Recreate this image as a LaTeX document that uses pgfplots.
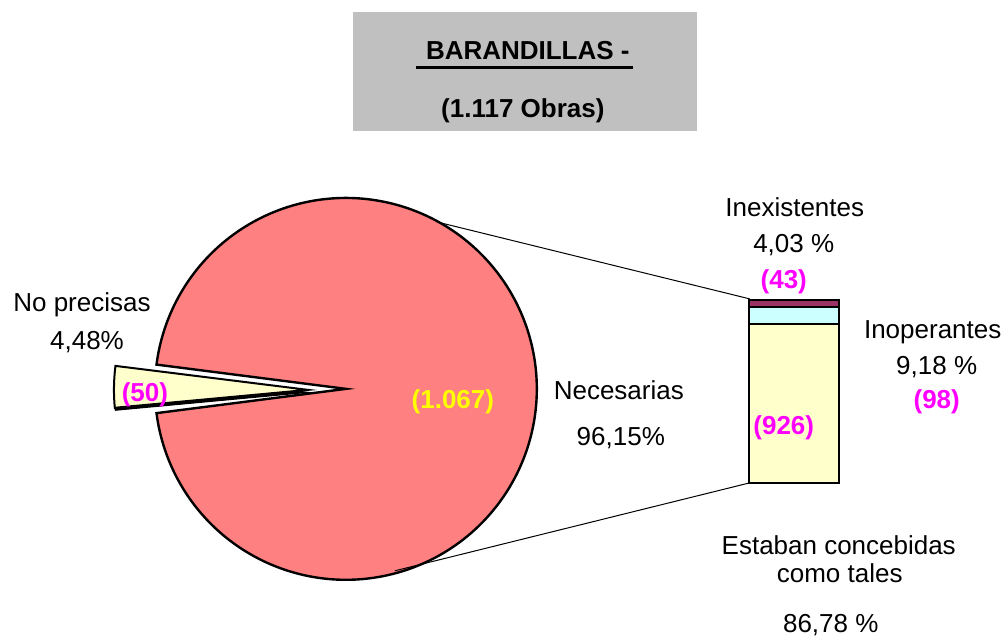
\documentclass[border=0pt]{standalone}
\usepackage{pgfplots}
\pgfplotsset{compat=1.18}
\usepackage{fontspec}
\setmainfont{Liberation Sans}
\definecolor{pieRed}{HTML}{FF8080}
\definecolor{pieYel}{HTML}{FFFFCC}
\definecolor{barCyan}{HTML}{CCFFFF}
\definecolor{barPlum}{HTML}{993366}
\definecolor{lblMag}{HTML}{FF00FF}
\definecolor{lblYel}{HTML}{FFFF00}
\definecolor{boxGray}{HTML}{C0C0C0}
\begin{document}
\begin{tikzpicture}[font=\fontsize{13}{15.6}\selectfont]
% stacked bar of the "Necesarias" part (1.067 obras)
\begin{axis}[at={(374.5pt,77pt)}, anchor=south west, scale only axis,
  width=45pt, height=91.5pt, xmin=-0.5, xmax=0.5, ymin=0, ymax=1067,
  hide axis, ybar stacked, bar width=45pt, clip=false]
\addplot[fill=pieYel, draw=black, line width=1.1pt] coordinates {(0,926)};
\addplot[fill=barCyan, draw=black, line width=1.1pt] coordinates {(0,98)};
\addplot[fill=barPlum, draw=black, line width=1.1pt] coordinates {(0,43)};
\end{axis}
% main canvas (pixel units, y downward)
\begin{axis}[scale only axis, width=504pt, height=318.5pt,
  xmin=0, xmax=1008, ymin=0, ymax=637, y dir=reverse, hide axis, clip=false]
\addplot[draw=none] coordinates {(0,0) (1008,637)};
% title box
\addplot[draw=none, fill=boxGray] coordinates {(353,12) (697,12) (697,131) (353,131)} -- cycle;
\node[anchor=base, font=\fontsize{13}{15.6}\selectfont\bfseries] at (axis cs:528,60) {BARANDILLAS -};
\addplot[black, line width=1.4pt] coordinates {(416,67.5) (633,67.5)};
\node[anchor=base, font=\fontsize{13}{15.6}\selectfont\bfseries] at (axis cs:523,118) {(1.117 Obras)};
% pie: Necesarias (1.067) with the notch of No precisas (50)
\addplot[fill=pieRed, draw=black, line width=1.2pt, domain=187.3:532.7, samples=300, variable=\t]
  ({346+191*cos(t)}, {389-191*sin(t)}) -- (axis cs:346,389) -- cycle;
% exploded slice: shadow then slice
\addplot[fill=black, draw=black, line width=0.5pt, domain=173.4:185.3, samples=30, variable=\t]
  ({308.5+194*cos(t)}, {392.5-194*sin(t)}) -- (axis cs:308.5,392.5) -- cycle;
\addplot[fill=pieYel, draw=black, line width=1pt, domain=172.9:185.3, samples=30, variable=\t]
  ({308+194*cos(t)}, {390-194*sin(t)}) -- (axis cs:308,390) -- cycle;
% connector lines
\addplot[black, line width=0.5pt] coordinates {(437,222) (750,299)};
\addplot[black, line width=0.5pt] coordinates {(395,571) (750,483)};
% labels
\node[anchor=base] at (axis cs:82,312) {No precisas};
\node[anchor=base] at (axis cs:87,350) {4,48\%};
\node[anchor=base, text=lblMag, font=\fontsize{13}{15.6}\selectfont\bfseries] at (axis cs:145,402) {(50)};
\node[anchor=base, text=lblYel, font=\fontsize{13}{15.6}\selectfont\bfseries] at (axis cs:453,409) {(1.067)};
\node[anchor=base] at (axis cs:619,400) {Necesarias};
\node[anchor=base] at (axis cs:621,446) {96,15\%};
\node[anchor=base] at (axis cs:795,217) {Inexistentes};
\node[anchor=base] at (axis cs:794,253) {4,03 \%};
\node[anchor=base, text=lblMag, font=\fontsize{13}{15.6}\selectfont\bfseries] at (axis cs:784,289) {(43)};
\node[anchor=base] at (axis cs:933,339) {Inoperantes};
\node[anchor=base] at (axis cs:937,375) {9,18 \%};
\node[anchor=base, text=lblMag, font=\fontsize{13}{15.6}\selectfont\bfseries] at (axis cs:937,409) {(98)};
\node[anchor=base, text=lblMag, font=\fontsize{13}{15.6}\selectfont\bfseries] at (axis cs:784,435) {(926)};
\node[anchor=base] at (axis cs:839,555) {Estaban concebidas};
\node[anchor=base] at (axis cs:840,583) {como tales};
\node[anchor=base] at (axis cs:831,633) {86,78 \%};
\end{axis}
\end{tikzpicture}
\end{document}
